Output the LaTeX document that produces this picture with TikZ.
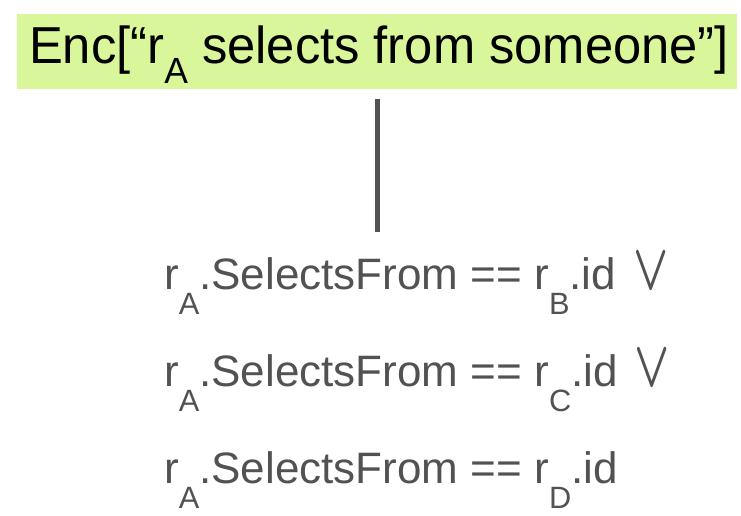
\documentclass[tikz,border=0pt]{standalone}
\usepackage{fontspec}
\usepackage{graphicx}
\setmainfont{Liberation Sans}
\definecolor{boxgreen}{RGB}{218,246,154}
\definecolor{textgray}{RGB}{82,82,82}
\newcommand{\lowsub}[2][0.59em]{\raisebox{-#1}{\scalebox{0.7}{#2}}}
\newcommand{\orsign}{\hspace{5pt}\scalebox{4.6}[6.5]{\normalsize\boldmath$\vee$}}

\begin{document}
\begin{tikzpicture}[x=1pt, y=-1pt,
    titlebox/.style={fill=boxgreen, inner sep=0pt, minimum width=720pt, minimum height=75pt},
    titletext/.style={anchor=base, inner sep=0pt, font=\fontsize{52}{60}\selectfont},
    clause/.style={anchor=base west, inner sep=0pt, text=textgray, font=\fontsize{44}{50}\selectfont},
    stem/.style={draw=textgray, line width=5pt}]
  \useasboundingbox (0,0) rectangle (741,516);
  \node[titlebox] (title) at (377,51.5) {};
  \node[titletext] (enc) at (379,64) {\scalebox{0.975}[1]{Enc[“r\lowsub[0.37em]{A} selects from someone”]}};
  \coordinate (stemend) at (377,232);
  \draw[stem] ([yshift=-10pt]title.south) -- (stemend);
  \node[clause] (selB) at (164,289) {r\lowsub{A}.SelectsFrom == r\lowsub{B}.id \orsign};
  \node[clause] (selC) at (164,386) {r\lowsub{A}.SelectsFrom == r\lowsub{C}.id \orsign};
  \node[clause] (selD) at (164,483) {r\lowsub{A}.SelectsFrom == r\lowsub{D}.id};
\end{tikzpicture}
\end{document}
